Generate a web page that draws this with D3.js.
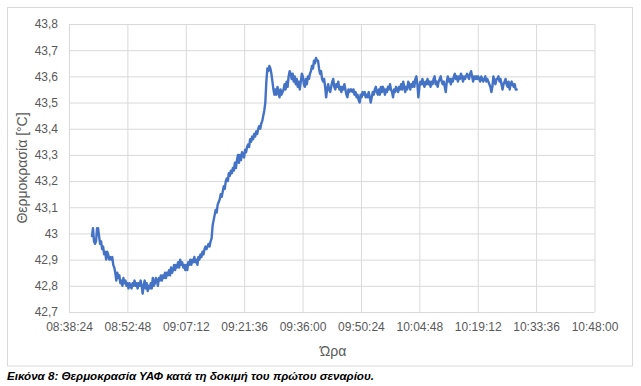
<!DOCTYPE html>
<html><head><meta charset="utf-8">
<script src="https://cdn.jsdelivr.net/npm/d3@7"></script>
<style>html,body{margin:0;padding:0;background:#fff;}</style>
</head><body>
<svg id="chart" width="641" height="386"></svg>
<script>
// ---- data ----
const xTickLabels = ["08:38:24","08:52:48","09:07:12","09:21:36","09:36:00","09:50:24","10:04:48","10:19:12","10:33:36","10:48:00"];
const yTickValues = [42.7,42.8,42.9,43.0,43.1,43.2,43.3,43.4,43.5,43.6,43.7,43.8];
const times = [
"08:44:04","08:44:19","08:44:34","08:44:49","08:45:04","08:45:19","08:45:34","08:45:49","08:46:04","08:46:19","08:46:34","08:46:49",
"08:47:04","08:47:19","08:47:34","08:47:49","08:48:04","08:48:19","08:48:34","08:48:49","08:49:04","08:49:19","08:49:34","08:49:49",
"08:50:04","08:50:19","08:50:34","08:50:49","08:51:04","08:51:19","08:51:34","08:51:49","08:52:04","08:52:19","08:52:34","08:52:49",
"08:53:04","08:53:19","08:53:34","08:53:49","08:54:04","08:54:19","08:54:34","08:54:49","08:55:04","08:55:19","08:55:34","08:55:49",
"08:56:04","08:56:19","08:56:34","08:56:49","08:57:04","08:57:19","08:57:34","08:57:49","08:58:04","08:58:19","08:58:34","08:58:49",
"08:59:04","08:59:19","08:59:34","08:59:49","09:00:04","09:00:19","09:00:34","09:00:49","09:01:04","09:01:19","09:01:34","09:01:49",
"09:02:04","09:02:19","09:02:34","09:02:49","09:03:04","09:03:19","09:03:34","09:03:49","09:04:04","09:04:19","09:04:34","09:04:49",
"09:05:04","09:05:19","09:05:34","09:05:49","09:06:04","09:06:19","09:06:34","09:06:49","09:07:04","09:07:19","09:07:34","09:07:49",
"09:08:04","09:08:19","09:08:34","09:08:49","09:09:04","09:09:19","09:09:34","09:09:49","09:10:04","09:10:19","09:10:34","09:10:49",
"09:11:04","09:11:19","09:11:34","09:11:49","09:12:04","09:12:19","09:12:34","09:12:49","09:13:04","09:13:19","09:13:34","09:13:49",
"09:14:04","09:14:19","09:14:34","09:14:49","09:15:04","09:15:19","09:15:34","09:15:49","09:16:04","09:16:19","09:16:34","09:16:49",
"09:17:04","09:17:19","09:17:34","09:17:49","09:18:04","09:18:19","09:18:34","09:18:49","09:19:04","09:19:19","09:19:34","09:19:49",
"09:20:04","09:20:19","09:20:34","09:20:49","09:21:04","09:21:19","09:21:34","09:21:49","09:22:04","09:22:19","09:22:34","09:22:49",
"09:23:04","09:23:19","09:23:34","09:23:49","09:24:04","09:24:19","09:24:34","09:24:49","09:25:04","09:25:19","09:25:34","09:25:49",
"09:26:04","09:26:19","09:26:34","09:26:49","09:27:04","09:27:19","09:27:34","09:27:49","09:28:04","09:28:19","09:28:34","09:28:49",
"09:29:04","09:29:19","09:29:34","09:29:49","09:30:04","09:30:19","09:30:34","09:30:49","09:31:04","09:31:19","09:31:34","09:31:49",
"09:32:04","09:32:19","09:32:34","09:32:49","09:33:04","09:33:19","09:33:34","09:33:49","09:34:04","09:34:19","09:34:34","09:34:49",
"09:35:04","09:35:19","09:35:34","09:35:49","09:36:04","09:36:19","09:36:34","09:36:49","09:37:04","09:37:19","09:37:34","09:37:49",
"09:38:04","09:38:19","09:38:34","09:38:49","09:39:04","09:39:19","09:39:34","09:39:49","09:40:04","09:40:19","09:40:34","09:40:49",
"09:41:04","09:41:19","09:41:34","09:41:49","09:42:04","09:42:19","09:42:34","09:42:49","09:43:04","09:43:19","09:43:34","09:43:49",
"09:44:04","09:44:19","09:44:34","09:44:49","09:45:04","09:45:19","09:45:34","09:45:49","09:46:04","09:46:19","09:46:34","09:46:49",
"09:47:04","09:47:19","09:47:34","09:47:49","09:48:04","09:48:19","09:48:34","09:48:49","09:49:04","09:49:19","09:49:34","09:49:49",
"09:50:04","09:50:19","09:50:34","09:50:49","09:51:04","09:51:19","09:51:34","09:51:49","09:52:04","09:52:19","09:52:34","09:52:49",
"09:53:04","09:53:19","09:53:34","09:53:49","09:54:04","09:54:19","09:54:34","09:54:49","09:55:04","09:55:19","09:55:34","09:55:49",
"09:56:04","09:56:19","09:56:34","09:56:49","09:57:04","09:57:19","09:57:34","09:57:49","09:58:04","09:58:19","09:58:34","09:58:49",
"09:59:04","09:59:19","09:59:34","09:59:49","10:00:04","10:00:19","10:00:34","10:00:49","10:01:04","10:01:19","10:01:34","10:01:49",
"10:02:04","10:02:19","10:02:34","10:02:49","10:03:04","10:03:19","10:03:34","10:03:49","10:04:04","10:04:19","10:04:34","10:04:49",
"10:05:04","10:05:19","10:05:34","10:05:49","10:06:04","10:06:19","10:06:34","10:06:49","10:07:04","10:07:19","10:07:34","10:07:49",
"10:08:04","10:08:19","10:08:34","10:08:49","10:09:04","10:09:19","10:09:34","10:09:49","10:10:04","10:10:19","10:10:34","10:10:49",
"10:11:04","10:11:19","10:11:34","10:11:49","10:12:04","10:12:19","10:12:34","10:12:49","10:13:04","10:13:19","10:13:34","10:13:49",
"10:14:04","10:14:19","10:14:34","10:14:49","10:15:04","10:15:19","10:15:34","10:15:49","10:16:04","10:16:19","10:16:34","10:16:49",
"10:17:04","10:17:19","10:17:34","10:17:49","10:18:04","10:18:19","10:18:34","10:18:49","10:19:04","10:19:19","10:19:34","10:19:49",
"10:20:04","10:20:19","10:20:34","10:20:49","10:21:04","10:21:19","10:21:34","10:21:49","10:22:04","10:22:19","10:22:34","10:22:49",
"10:23:04","10:23:19","10:23:34","10:23:49","10:24:04","10:24:19","10:24:34","10:24:49","10:25:04","10:25:19","10:25:34","10:25:49",
"10:26:04","10:26:19","10:26:34","10:26:49","10:27:04","10:27:19","10:27:34","10:27:49","10:28:04","10:28:19","10:28:34","10:28:49"
];
const temperatures = [
42.99,43.02,42.97,42.96, 42.97,43.02,43.02,42.99, 42.96,42.97,42.94,42.95, 42.92,42.93,42.90,42.93,
42.92,42.90,42.91,42.90, 42.91,42.88,42.87,42.85, 42.82,42.85,42.83,42.84, 42.81,42.82,42.80,42.83,
42.81,42.82,42.80,42.81, 42.79,42.81,42.80,42.79, 42.81,42.80,42.82,42.80, 42.81,42.79,42.81,42.80,
42.82,42.80,42.77,42.80, 42.82,42.79,42.81,42.78, 42.80,42.79,42.81,42.79, 42.83,42.80,42.81,42.83,
42.82,42.80,42.83,42.82, 42.84,42.82,42.84,42.83, 42.85,42.83,42.85,42.84, 42.86,42.84,42.87,42.85,
42.86,42.88,42.86,42.88, 42.87,42.89,42.87,42.90, 42.88,42.89,42.87,42.88, 42.86,42.88,42.86,42.89,
42.88,42.90,42.88,42.90, 42.89,42.91,42.89,42.90, 42.88,42.91,42.90,42.92, 42.91,42.93,42.92,42.94,
42.95,42.94,42.95,42.96, 42.95,42.97,42.98,43.03, 43.05,43.07,43.09,43.08, 43.11,43.12,43.13,43.15,
43.14,43.16,43.18,43.17, 43.20,43.21,43.20,43.23, 43.22,43.24,43.23,43.25, 43.24,43.27,43.25,43.28,
43.30,43.27,43.30,43.28, 43.31,43.30,43.29,43.32, 43.31,43.33,43.34,43.33, 43.36,43.35,43.37,43.36,
43.38,43.37,43.39,43.38, 43.40,43.41,43.40,43.42, 43.43,43.45,43.47,43.50, 43.58,43.63,43.62,43.64,
43.63,43.61,43.58,43.55, 43.53,43.55,43.53,43.56, 43.54,43.52,43.55,43.53, 43.54,43.55,43.57,43.55,
43.58,43.56,43.60,43.62, 43.61,43.59,43.61,43.58, 43.60,43.57,43.59,43.56, 43.58,43.55,43.58,43.61,
43.60,43.57,43.56,43.59, 43.57,43.60,43.59,43.61, 43.62,43.64,43.63,43.66, 43.65,43.67,43.66,43.66,
43.63,43.61,43.62,43.59, 43.58,43.59,43.56,43.52, 43.55,43.57,43.55,43.54, 43.56,43.58,43.59,43.56,
43.55,43.57,43.56,43.58, 43.55,43.56,43.54,43.56, 43.55,43.57,43.55,43.53, 43.52,43.55,43.54,43.55,
43.55,43.54,43.55,43.53, 43.54,43.52,43.53,43.51, 43.50,43.53,43.52,43.54, 43.53,43.54,43.52,43.53,
43.52,43.54,43.52,43.50, 43.52,43.54,43.53,43.55, 43.56,43.54,43.53,43.55, 43.53,43.56,43.54,43.56,
43.55,43.53,43.55,43.54, 43.56,43.55,43.57,43.55, 43.54,43.52,43.55,43.54, 43.56,43.55,43.54,43.56,
43.55,43.57,43.55,43.58, 43.56,43.54,43.56,43.55, 43.58,43.57,43.55,43.57, 43.56,43.58,43.56,43.59,
43.60,43.57,43.52,43.56, 43.58,43.57,43.59,43.57, 43.56,43.58,43.57,43.59, 43.57,43.58,43.56,43.58,
43.57,43.59,43.60,43.57, 43.58,43.56,43.58,43.59, 43.60,43.58,43.57,43.58, 43.56,43.54,43.58,43.60,
43.58,43.59,43.57,43.59, 43.58,43.60,43.61,43.59, 43.60,43.58,43.60,43.59, 43.61,43.60,43.58,43.60,
43.59,43.60,43.61,43.60, 43.59,43.61,43.62,43.60, 43.58,43.60,43.59,43.60, 43.59,43.60,43.59,43.58,
43.60,43.59,43.58,43.59, 43.60,43.58,43.59,43.58, 43.57,43.56,43.54,43.56, 43.60,43.58,43.57,43.59,
43.59,43.60,43.58,43.59, 43.57,43.55,43.57,43.58, 43.59,43.57,43.56,43.58, 43.55,43.57,43.58,43.57,
43.56,43.57,43.55,43.55
];
const yAxisTitle = "Θερμοκρασία [°C]";
const xAxisTitle = "Ώρα";
const caption = "Εικόνα 8: Θερμοκρασία ΥΑΦ κατά τη δοκιμή του πρώτου σεναρίου.";

// ---- drawing ----
const svg = d3.select("#chart");
const font = "'Liberation Sans', Arial, sans-serif";
const parse = d3.timeParse("%H:%M:%S");
const plot = {left: 69, right: 594.5, top: 24, bottom: 312};

const x = d3.scaleTime()
  .domain([parse(xTickLabels[0]), parse(xTickLabels[xTickLabels.length - 1])])
  .range([plot.left, plot.right]);
const y = d3.scaleLinear()
  .domain([yTickValues[0], yTickValues[yTickValues.length - 1]])
  .range([plot.bottom, plot.top]);

svg.append("rect").attr("width", 641).attr("height", 386).attr("fill", "#fff");
svg.append("rect").attr("x", 7.5).attr("y", 7.5).attr("width", 625).attr("height", 358.5)
  .attr("fill", "#fff").attr("stroke", "#d9d9d9").attr("stroke-width", 1);

// horizontal gridlines + y labels
const yAxis = d3.axisLeft(y).tickValues(yTickValues)
  .tickSize(-(plot.right - plot.left)).tickPadding(11)
  .tickFormat(d => d3.format(".1f")(d).replace(/\.0$/, "").replace(".", ","));
const gy = svg.append("g").attr("transform", `translate(${plot.left},0)`).call(yAxis);
gy.select(".domain").remove();
gy.selectAll(".tick line").attr("stroke", "#d9d9d9").attr("stroke-width", 1);
gy.selectAll(".tick text").attr("fill", "#595959").attr("font-family", font).attr("font-size", 12);

// vertical gridlines + x labels
const xTicks = xTickLabels.map(parse);
const xAxis = d3.axisBottom(x).tickValues(xTicks)
  .tickSize(-(plot.bottom - plot.top)).tickPadding(10)
  .tickFormat(d3.timeFormat("%H:%M:%S"));
const gx = svg.append("g").attr("transform", `translate(0,${plot.bottom})`).call(xAxis);
gx.select(".domain").remove();
gx.selectAll(".tick line").attr("stroke", "#d9d9d9").attr("stroke-width", 1);
gx.selectAll(".tick text").attr("fill", "#595959").attr("font-family", font).attr("font-size", 12);

// line
const data = times.map((t, i) => ({t: parse(t), v: temperatures[i]}));
svg.append("path").datum(data)
  .attr("fill", "none").attr("stroke", "#4472c4").attr("stroke-width", 2.4)
  .attr("stroke-linejoin", "round").attr("stroke-linecap", "round")
  .attr("d", d3.line().x(d => x(d.t)).y(d => y(d.v)));

// axis titles
svg.append("text").attr("x", 333).attr("y", 356)
  .attr("text-anchor", "middle").attr("fill", "#595959")
  .attr("font-family", font).attr("font-size", 14).text(xAxisTitle);
svg.append("text")
  .attr("transform", `translate(27,${(plot.top + plot.bottom) / 2}) rotate(-90)`)
  .attr("text-anchor", "middle").attr("fill", "#595959")
  .attr("font-family", font).attr("font-size", 14).text(yAxisTitle);

// caption
svg.append("text").attr("x", 7).attr("y", 380)
  .attr("fill", "#000").attr("font-family", font).attr("font-size", 11.6)
  .attr("font-weight", "bold").attr("font-style", "italic").text(caption);
</script>
</body></html>
